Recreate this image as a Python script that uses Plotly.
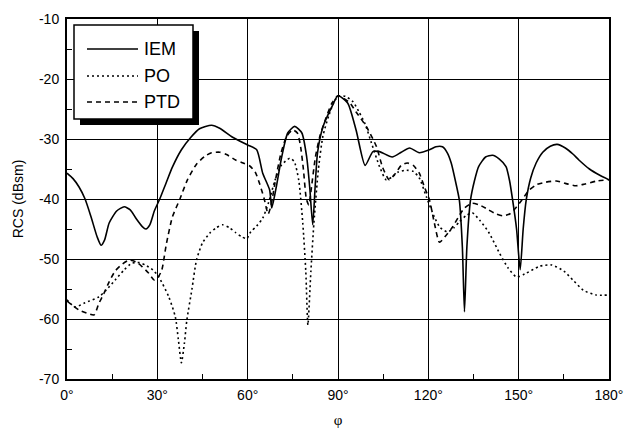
import plotly.graph_objects as go

# ---------------- data ----------------
iem_phi = [0, 2, 4, 6, 8, 10, 11.3, 12.5, 14, 16.5, 19, 21, 23, 25, 26.2, 27.5, 29, 30.8,
           33, 35, 38, 41, 44, 48, 50.7, 55, 60, 63, 65, 67.3, 68, 69.5, 71.3, 73.3, 75.6,
           78, 79.6, 80.6, 81.6, 82.4, 83.2, 85, 87.9, 90, 93.2, 96, 99, 101.6, 103.8, 108,
           111, 113.8, 117, 120.4, 122.5, 124.7, 126.3, 127.6, 129, 130.3, 131.3, 132,
           132.8, 134, 135.3, 136.7, 139, 141.3, 143.5, 145.8, 147, 148, 149.3, 150.5,
           151.5, 152.5, 154, 155.8, 158, 160.5, 162.8, 165.5, 168, 170, 173.5, 176.8, 180]
iem_rcs = [-35.7, -36.6, -38.0, -40.0, -43.0, -46.3, -47.7, -46.8, -44.0, -42.0, -41.3,
           -41.8, -43.3, -44.6, -45.0, -44.3, -42.0, -40.0, -37.2, -34.7, -31.8, -29.8,
           -28.3, -27.7, -28.2, -29.7, -31.0, -31.8, -35.7, -38.5, -41.5, -38.0, -33.0,
           -29.0, -27.9, -29.0, -33.0, -38.0, -44.3, -38.0, -32.3, -28.0, -24.7, -22.8,
           -24.0, -28.5, -34.4, -32.1, -32.1, -33.0, -32.2, -31.5, -32.3, -31.8, -31.3,
           -31.3, -32.3, -34.0, -37.0, -40.2, -48.0, -58.8, -48.0, -40.2, -37.0, -34.6,
           -33.0, -32.7, -33.3, -34.6, -37.0, -40.2, -45.0, -51.8, -45.0, -40.2, -36.5,
           -34.0, -32.2, -31.2, -30.9, -31.5, -32.5, -33.5, -35.0, -36.0, -36.8]

po_phi = [0, 2.6, 6, 10.6, 13, 16, 19, 21.5, 24, 26, 28.5, 30.5, 33.8, 36, 37, 38, 39,
          39.8, 41.5, 43, 45, 47.4, 49.5, 51.7, 54, 56, 58, 59.7, 61, 63, 65, 67, 69, 71,
          74, 75.5, 77, 78.3, 79.3, 80, 81, 82, 83.5, 85, 87, 89, 90.5, 92.5, 95, 97, 99,
          101, 103.8, 106, 108, 110, 112.8, 115, 117, 119.4, 122, 124, 126.4, 128.5, 130.3,
          132.5, 134.6, 137, 140, 143.6, 146.5, 149.3, 152, 157, 161, 165, 168, 171.5,
          175.7, 180]
po_rcs = [-56.8, -58.0, -57.3, -56.3, -55.2, -53.5, -51.8, -50.7, -50.6, -51.0, -51.8,
          -53.0, -56.3, -59.7, -63.5, -67.3, -64.0, -60.2, -55.0, -50.2, -47.3, -45.7,
          -44.8, -44.3, -44.8, -45.6, -46.3, -46.6, -45.5, -44.5, -43.2, -40.5, -37.0,
          -34.5, -33.2, -33.8, -37.0, -44.0, -52.0, -61.0, -52.0, -44.0, -35.0, -29.5,
          -26.0, -23.5, -22.8, -22.9, -23.8, -25.5, -27.5, -30.5, -34.6, -36.8, -36.3,
          -35.5, -35.2, -35.4, -36.5, -39.7, -43.0, -44.8, -45.5, -44.8, -43.8, -42.8,
          -42.3, -43.5, -45.5, -49.0, -51.5, -53.0, -52.5, -51.2, -51.0, -52.0, -53.5,
          -55.2, -56.0, -56.0]

ptd_phi = [0, 2, 4, 6.5, 9, 10.5, 12.3, 14, 16, 18.5, 20.6, 23, 25, 27, 29, 30.3, 31.5,
           33, 35, 37.5, 40, 43, 46, 48, 50.7, 53, 56, 58.5, 60.7, 62.5, 64, 65.5, 66.8,
           67.8, 69, 71, 73, 75, 76.5, 77.5, 78.5, 79.5, 80.3, 81.2, 82.5, 84, 86, 88, 90,
           92, 94, 96, 99.5, 102.8, 104.8, 107, 109, 111, 113, 115, 117, 118.7, 120.4, 122,
           123.7, 126, 128, 130, 132, 134.6, 137, 140, 142.5, 144.6, 147, 149, 151, 153.5,
           156, 159, 162.5, 165.5, 169, 172, 176, 180]
ptd_rcs = [-57.0, -57.8, -58.5, -59.0, -59.3, -57.5, -55.7, -53.8, -52.0, -50.8, -50.2,
           -50.5, -51.3, -52.3, -53.5, -53.0, -51.8, -47.5, -43.0, -40.0, -36.8, -34.2,
           -32.8, -32.3, -32.2, -32.6, -33.5, -34.0, -34.5, -35.5, -37.5, -40.0, -42.5,
           -41.0, -37.5, -32.5, -29.5, -28.5, -29.0, -31.0, -35.0, -40.0, -41.0, -38.0,
           -33.0, -29.5, -26.5, -24.0, -22.8, -23.3, -24.0, -25.5, -28.0, -31.3, -34.7,
           -36.8, -35.8, -34.4, -34.0, -34.4, -35.7, -38.0, -40.2, -44.0, -47.2, -46.0,
           -44.7, -43.0, -41.5, -40.7, -41.0, -41.8, -42.5, -42.8, -42.5, -41.5, -40.2,
           -38.5, -37.6, -37.2, -37.0, -37.4, -37.8, -37.5, -37.0, -36.8]

series_names = ["IEM", "PO", "PTD"]
series_dash = ["solid", "2px,3px", "5px,4px"]

x_ticks = [0, 30, 60, 90, 120, 150, 180]
x_tick_labels = ["0°", "30°", "60°", "90°", "120°", "150°", "180°"]
y_ticks = [-70, -60, -50, -40, -30, -20, -10]
y_tick_labels = ["-70", "-60", "-50", "-40", "-30", "-20", "-10"]

# ---------------- figure ----------------
fig = go.Figure()
lw = 1.6
for name, xs, ys, dash in zip(series_names, [iem_phi, po_phi, ptd_phi],
                              [iem_rcs, po_rcs, ptd_rcs], series_dash):
    fig.add_trace(go.Scatter(x=xs, y=ys, mode="lines", name=name, showlegend=False,
                             line=dict(color="black", width=lw, dash=dash,
                                       shape="spline", smoothing=0.6)))

axis_font = dict(family="Liberation Sans, Arial, sans-serif", size=14, color="black")

fig.update_xaxes(range=[0, 180], tickvals=x_ticks, ticktext=x_tick_labels,
                 showgrid=True, gridcolor="black", gridwidth=1,
                 showline=True, linecolor="black", linewidth=2, mirror=True,
                 ticks="", tickfont=axis_font, ticklabelstandoff=2, automargin=False,
                 minor=dict(tickvals=[15, 45, 75, 105, 135, 165], ticks="inside", ticklen=5,
                            tickcolor="black", tickwidth=1, showgrid=False),
                 title=dict(text="φ", font=dict(family="Liberation Serif, serif", size=15, color="black"),
                            standoff=15),
                 zeroline=False)
fig.update_yaxes(range=[-70, -10], tickvals=y_ticks, ticktext=y_tick_labels,
                 showgrid=True, gridcolor="black", gridwidth=1,
                 showline=True, linecolor="black", linewidth=2, mirror=True,
                 ticks="", tickfont=axis_font, ticklabelstandoff=3, automargin=False,
                 minor=dict(tickvals=[-65, -55, -45, -35, -25, -15], ticks="inside", ticklen=5,
                            tickcolor="black", tickwidth=1, showgrid=False),
                 title=dict(text="RCS (dBsm)", font=dict(family="Liberation Sans, Arial, sans-serif",
                                                          size=14, color="black"), standoff=12),
                 zeroline=False)

# ---- legend box drawn in paper coordinates (with drop shadow) ----
PW, PH = 542.0, 360.0          # plot area size in px
def px_x(p):  # pixel offset from plot left -> paper
    return p / PW
def px_y(p):  # pixel offset from plot top -> paper
    return 1 - p / PH

box_l, box_r, box_t, box_b = 7, 126, 6, 100
sh = 6
fig.add_shape(type="rect", xref="paper", yref="paper",
              x0=px_x(box_l + sh), x1=px_x(box_r + sh), y0=px_y(box_b + sh), y1=px_y(box_t + sh),
              fillcolor="black", line=dict(width=0), layer="above")
fig.add_shape(type="rect", xref="paper", yref="paper",
              x0=px_x(box_l), x1=px_x(box_r), y0=px_y(box_b), y1=px_y(box_t),
              fillcolor="white", line=dict(color="black", width=1.5), layer="above")
row_y = [30, 57, 83]
for name, dash, ry in zip(series_names, series_dash, row_y):
    fig.add_shape(type="line", xref="paper", yref="paper",
                  x0=px_x(20), x1=px_x(71), y0=px_y(ry), y1=px_y(ry),
                  line=dict(color="black", width=1.5, dash=dash), layer="above")
    fig.add_annotation(xref="paper", yref="paper", x=px_x(75), y=px_y(ry),
                       xanchor="left", yanchor="middle", showarrow=False, text=name,
                       font=dict(family="Liberation Sans, Arial, sans-serif", size=18, color="black"))

fig.update_layout(
    width=628, height=428,
    margin=dict(l=67, r=19, t=19, b=49, autoexpand=False),
    paper_bgcolor="white", plot_bgcolor="white",
    showlegend=False,
)

fig.write_html("out.html", config={"displayModeBar": False},
               post_script="document.body.style.margin='0';")
